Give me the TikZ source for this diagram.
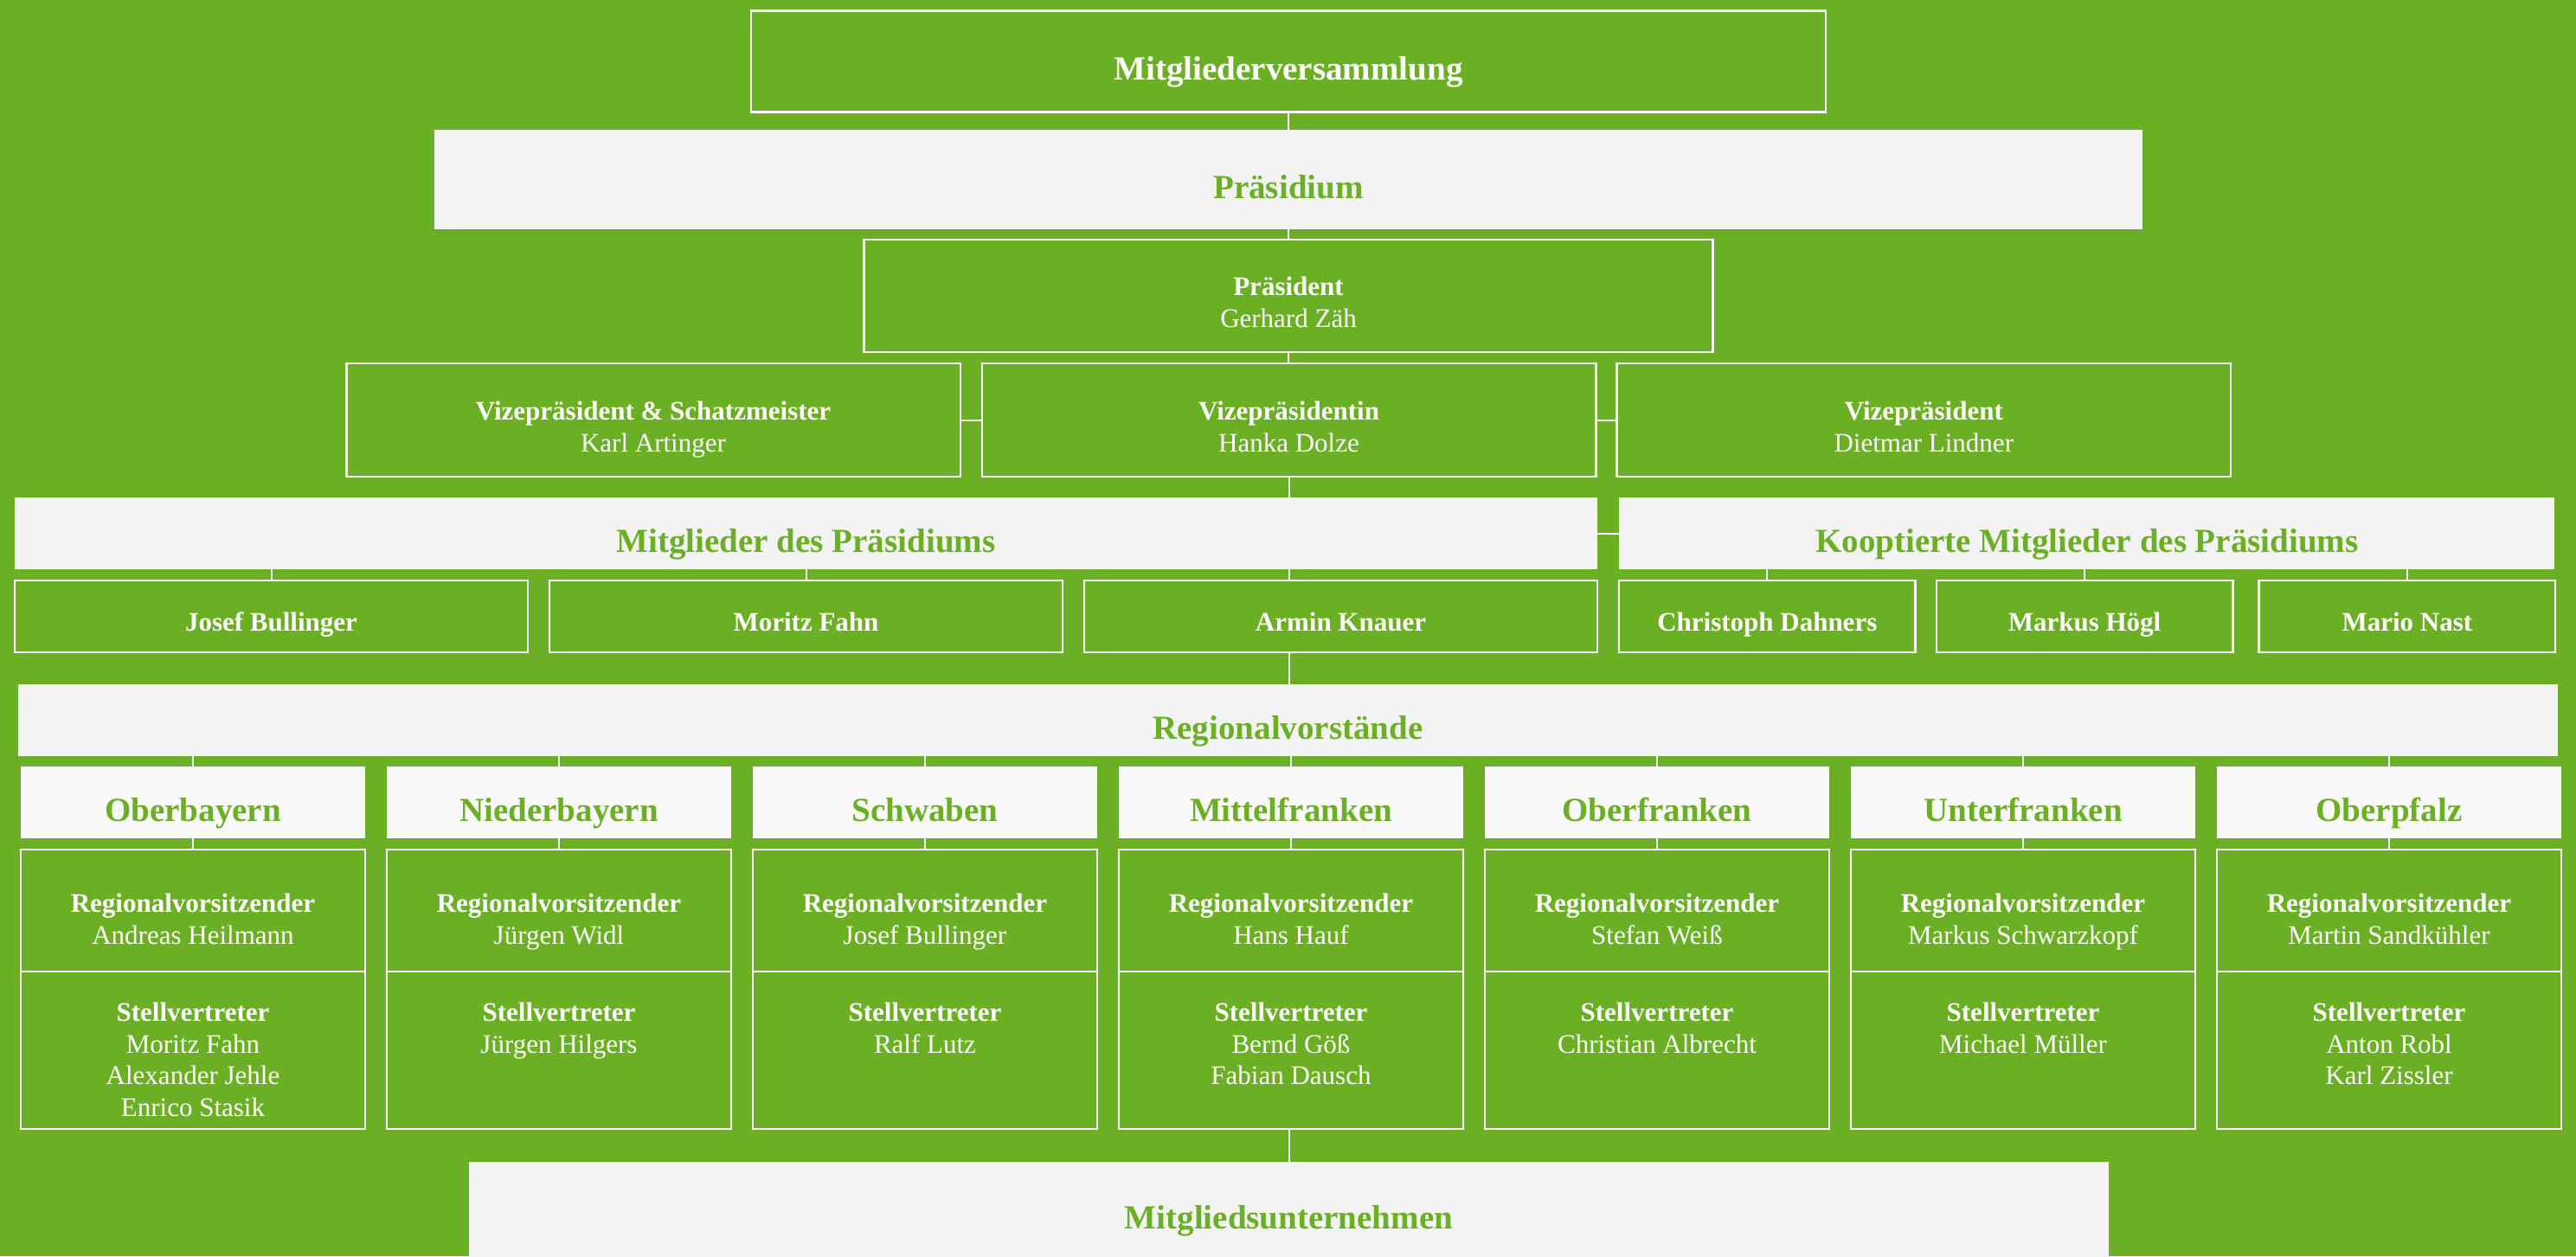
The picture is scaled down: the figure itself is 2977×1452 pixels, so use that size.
\documentclass[tikz,border=0pt]{standalone}
\usepackage{fontspec}
\setmainfont{Liberation Serif}
\definecolor{vgreen}{HTML}{6BB024}
\definecolor{bandgray}{HTML}{F3F3F3}
\definecolor{headgray}{HTML}{F9F9F9}
\begin{document}
\begin{tikzpicture}[x=1pt, y=-1pt,
    big/.style={font=\fontsize{39}{44}\selectfont\bfseries, text height=43pt, text depth=0pt},
    frame/.style={draw=white, line width=2.5pt, inner sep=0pt},
    band/.style={fill=bandgray, text=vgreen, inner sep=0pt, big},
    head/.style={band, fill=headgray, minimum width=398pt, minimum height=83pt},
    member/.style={frame, text=white, font=\fontsize{31}{36.5}\selectfont\bfseries,
          text height=33pt, text depth=0pt, minimum height=83pt},
    txt/.style={text=white, align=center, inner sep=0pt, anchor=north,
          font=\fontsize{31}{36.5}\selectfont},
    link/.style={draw=white, line width=2pt}]
    \useasboundingbox (0,0) rectangle (2977,1452);
    \fill[vgreen] (0,0) rectangle (2977,1452);
    % top of the chart
    \node[frame, big, text=white, minimum width=1242pt, minimum height=117pt] (mv) at (1489,71) {Mitgliederversammlung};
    \node[band, minimum width=1974pt, minimum height=115pt] (pr) at (1489,207.5) {Präsidium};
    \node[frame, minimum width=981pt, minimum height=130pt] (p) at (1489,342) {};
    \node[txt] (pt) at (1489,320) {\textbf{Präsident}\\Gerhard Zäh};
    \foreach \i/\x/\role/\name in {1/755/{Vizepräsident \& Schatzmeister}/Karl Artinger,
          2/1489.5/Vizepräsidentin/Hanka Dolze, 3/2223.3/Vizepräsident/Dietmar Lindner}{
        \node[frame, minimum width=709.5pt, minimum height=131pt] (v\i) at (\x,485.5) {};
        \node[txt] (vt\i) at (\x,464) {\textbf{\role}\\\name};
    };
    % members of the board
    \node[band, minimum width=1829pt, minimum height=83pt] (mdp) at (931.5,616.5) {Mitglieder des Präsidiums};
    \node[band, minimum width=1081pt, minimum height=83pt] (kmp) at (2411.8,616.5) {Kooptierte Mitglieder des Präsidiums};
    \foreach \i/\x/\name in {1/313.5/Josef Bullinger, 2/931.5/Moritz Fahn, 3/1549.5/Armin Knauer}{
        \node[member, minimum width=593pt] (m\i) at (\x,712.5) {\name};
    };
    \foreach \i/\x/\name in {1/2042.3/Christoph Dahners, 2/2409/Markus Högl, 3/2781.8/Mario Nast}{
        \node[member, minimum width=342.5pt] (k\i) at (\x,712.5) {\name};
    };
    % regions
    \node[band, minimum width=2935pt, minimum height=83pt] (rv) at (1488.5,832.5) {Regionalvorstände};
    \foreach \i/\reg/\chair/\deps[
        evaluate = \i as \x using {223 + 423*\i}
        ] in {0/Oberbayern/Andreas Heilmann/{Moritz Fahn\\Alexander Jehle\\Enrico Stasik},
          1/Niederbayern/Jürgen Widl/Jürgen Hilgers,
          2/Schwaben/Josef Bullinger/Ralf Lutz,
          3/Mittelfranken/Hans Hauf/{Bernd Göß\\Fabian Dausch},
          4/Oberfranken/Stefan Weiß/Christian Albrecht,
          5/Unterfranken/Markus Schwarzkopf/Michael Müller,
          6/Oberpfalz/Martin Sandkühler/{Anton Robl\\Karl Zissler}}{
        \node[head] (h\i) at (\x,927.5) {\reg};
        \node[frame, minimum width=398pt, minimum height=141pt] (c\i) at (\x,1052.5) {};
        \node[frame, minimum width=398pt, minimum height=182pt] (d\i) at (\x,1214) {};
        \node[txt] (ct\i) at (\x,1033) {\textbf{Regionalvorsitzender}\\\chair};
        \node[txt] (dt\i) at (\x,1159) {\textbf{Stellvertreter}\\\deps};
        \draw[link] (h\i.north) -- (h\i.north |- rv.south);
        \draw[link] (h\i.south) -- (c\i.north);
    };
    \node[band, minimum width=1895pt, minimum height=112pt] (mu) at (1489.5,1399) {Mitgliedsunternehmen};
    % connectors
    \draw[link] (mv.south) -- (pr.north -| mv.south);
    \draw[link] (pr.south -| mv.south) -- (p.north -| mv.south);
    \draw[link] (p.south -| mv.south) -- (v2.north -| mv.south);
    \draw[link] (v1.east) -- (v2.west);
    \draw[link] (v2.east) -- (v3.west);
    \draw[link] (v2.south) -- (mdp.north -| v2.south);
    \draw[link] (mdp.east) -- (kmp.west);
    \draw[link] (m1.north) -- (m1.north |- mdp.south);
    \draw[link] (m2.north) -- (m2.north |- mdp.south);
    \draw[link] (mdp.south -| v2.south) -- (m3.north -| v2.south);
    \draw[link] (m3.south -| v2.south) -- (rv.north -| v2.south);
    \foreach \i in {1,2,3}{
        \draw[link] (k\i.north) -- (k\i.north |- kmp.south);
    };
    \draw[link] (d3.south -| v2.south) -- (mu.north -| v2.south);
\end{tikzpicture}
\end{document}
